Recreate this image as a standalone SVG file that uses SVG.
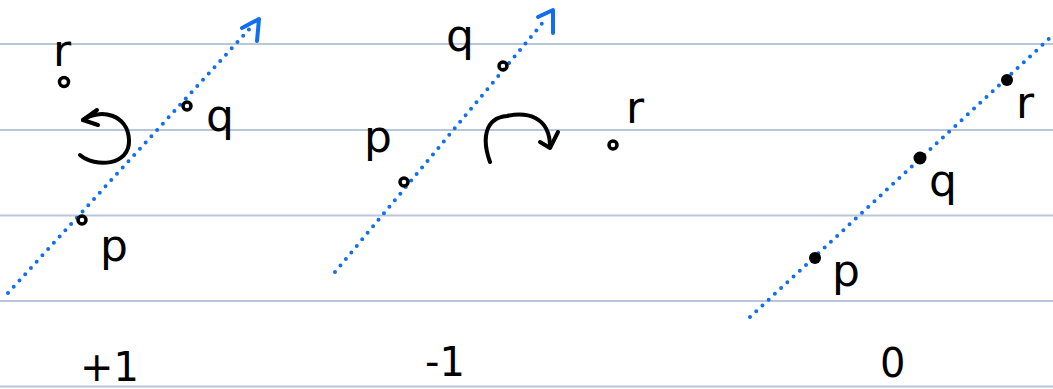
<svg xmlns="http://www.w3.org/2000/svg" width="1053" height="389" viewBox="0 0 1053 389">
<style>
.rule{stroke:#b9c5d8;stroke-width:2}
.dot{fill:none;stroke:#0f6ff0;stroke-width:4;stroke-linecap:round;stroke-dasharray:0 8.5}
.head{fill:none;stroke:#0f6ff0;stroke-width:4;stroke-linecap:round;stroke-linejoin:round}
.ink{fill:none;stroke:#000;stroke-width:4;stroke-linecap:round;stroke-linejoin:round}
.pt{fill:none;stroke:#000;stroke-width:3.5}
.fpt{fill:#000}
.lbl{font-family:"DejaVu Sans",sans-serif;font-size:44px;fill:#000}
.num{font-family:"DejaVu Sans",sans-serif;font-size:40px;fill:#000}
</style>
<rect width="1053" height="389" fill="#fff"/>
<g id="rules">
<line class="rule" x1="0" y1="44" x2="1053" y2="44"/>
<line class="rule" x1="0" y1="130" x2="1053" y2="130"/>
<line class="rule" x1="0" y1="215.5" x2="1053" y2="215.5"/>
<line class="rule" x1="0" y1="301" x2="1053" y2="301"/>
<line class="rule" x1="0" y1="386.5" x2="1053" y2="386.5"/>
</g>
<g id="connectors">
<line class="dot" x1="8" y1="293" x2="254" y2="24"/>
<path class="head" d="M242 28 L259 19 L257 41"/>
<line class="dot" x1="335" y1="272" x2="545" y2="20"/>
<path class="head" d="M538 17 L553 10 L553 33"/>
<line class="dot" x1="750" y1="317" x2="1052" y2="36"/>
<path class="ink" d="M80 155 C95 168 130 166 129 140 C128 114 100 108 83 120"/>
<path class="ink" d="M97 110 L83 120 L98 125"/>
<path class="ink" d="M490 162 C482 140 484 118 507 116 C525 112 550 115 550 147"/>
<path class="ink" d="M540 142 L550 148 L558 132"/>
</g>
<g id="panel1">
<circle class="pt" cx="187" cy="106" r="4"/>
<circle class="pt" cx="82" cy="220" r="4"/>
<circle class="pt" cx="64" cy="82" r="4.5"/>
<text class="lbl" x="53" y="66">r</text>
<text class="lbl" x="206" y="131">q</text>
<text class="lbl" x="100" y="261">p</text>
<text class="num" x="80" y="381">+1</text>
</g>
<g id="panel2">
<circle class="pt" cx="503" cy="66" r="4"/>
<circle class="pt" cx="404" cy="182" r="4"/>
<circle class="pt" cx="613" cy="145" r="4"/>
<text class="lbl" x="446" y="51">q</text>
<text class="lbl" x="364" y="152">p</text>
<text class="lbl" x="626" y="123">r</text>
<text class="num" x="425" y="376">-1</text>
</g>
<g id="panel3">
<circle class="fpt" cx="1007" cy="80" r="6"/>
<circle class="fpt" cx="920" cy="158" r="6.5"/>
<circle class="fpt" cx="815" cy="258" r="6"/>
<text class="lbl" x="1016" y="118">r</text>
<text class="lbl" x="929" y="196">q</text>
<text class="lbl" x="832" y="286">p</text>
<text class="num" x="880" y="377">0</text>
</g>
</svg>
